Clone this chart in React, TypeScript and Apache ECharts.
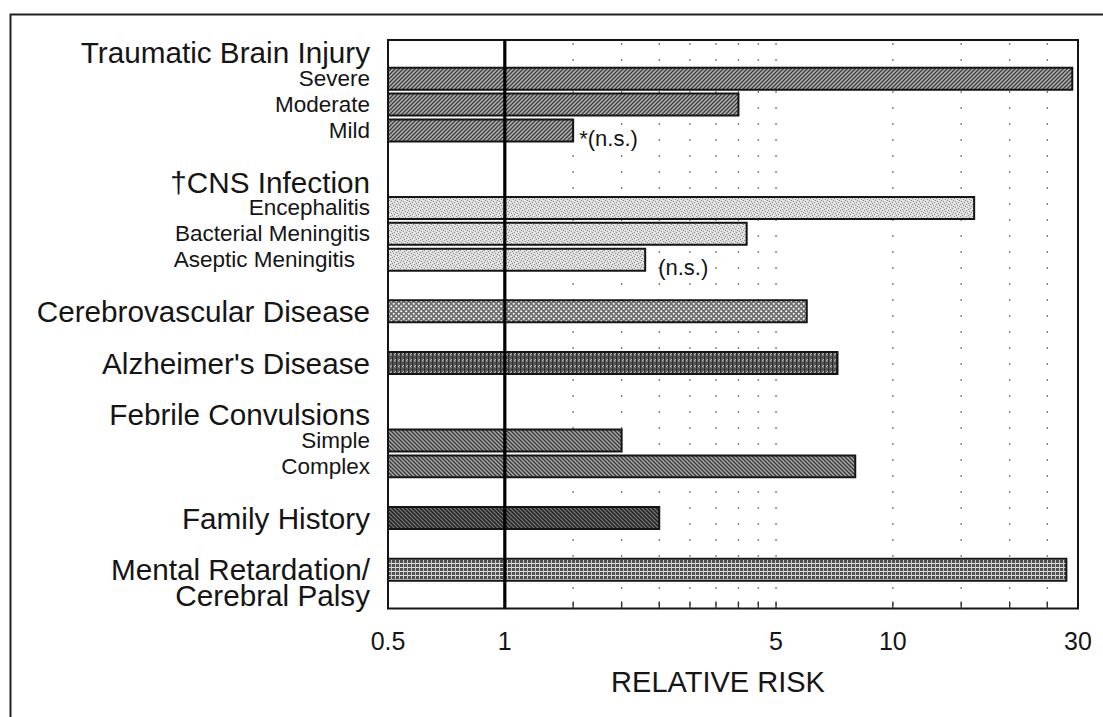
import React, { useEffect, useRef } from "react";
import * as echarts from "echarts";

// Relative-risk scale limits
const X_MIN = 0.5;
const X_MAX = 30;

// One entry per row of the category axis (top to bottom)
const rowLabels = [
  "Traumatic Brain Injury",
  "Severe",
  "Moderate",
  "Mild",
  "",
  "†CNS Infection",
  "Encephalitis",
  "Bacterial Meningitis",
  "Aseptic Meningitis",
  "",
  "Cerebrovascular Disease",
  "",
  "Alzheimer's Disease",
  "",
  "Febrile Convulsions",
  "Simple",
  "Complex",
  "",
  "Family History",
  "",
  "Mental Retardation/",
  "Cerebral Palsy",
];

const rowStyles = [
  "head", "sub", "sub", "sub", "sub",
  "head", "sub", "sub", "subPad", "sub",
  "head", "sub", "head", "sub",
  "head", "sub", "sub", "sub",
  "head", "sub", "head", "head",
];

// Relative risk per row (null = no bar)
const riskValues = [
  null, 29, 4.0, 1.5, null,
  null, 16.2, 4.2, 2.3, null,
  6.0, null, 7.2, null,
  null, 2.0, 8.0, null,
  2.5, null, 28, null,
];

// Fill texture per row
const rowFills = [
  "", "hatchFwd", "hatchFwd", "hatchFwd", "",
  "", "stipple", "stipple", "stipple", "",
  "diamond", "", "vertical", "",
  "", "hatchBack", "hatchBack", "",
  "hatchDark", "", "mesh", "",
];

const annotations = [
  "", "", "", "*(n.s.)", "",
  "", "", "", "(n.s.)", "",
  "", "", "", "",
  "", "", "", "",
  "", "", "", "",
];

const gridValues = [1.5, 2, 2.5, 3, 3.5, 4, 4.5, 5, 10, 15, 20, 25];
const tickLabels = [0.5, 1, 5, 10, 30];

const FONT = "'Liberation Sans', Arial, Helvetica, sans-serif";
const INK = "#151515";

function makeTile(w: number, h: number, draw: (ctx: CanvasRenderingContext2D) => void) {
  const c = document.createElement("canvas");
  c.width = w;
  c.height = h;
  const ctx = c.getContext("2d") as CanvasRenderingContext2D;
  draw(ctx);
  return c;
}

function buildPatterns() {
  const hatch = (bg: string, fg: string, forward: boolean, lw: number) =>
    makeTile(4, 4, (ctx) => {
      ctx.fillStyle = bg;
      ctx.fillRect(0, 0, 4, 4);
      ctx.strokeStyle = fg;
      ctx.lineWidth = lw;
      ctx.beginPath();
      if (forward) {
        ctx.moveTo(-1, 5); ctx.lineTo(5, -1);
        ctx.moveTo(-1, 1); ctx.lineTo(1, -1);
        ctx.moveTo(3, 5); ctx.lineTo(5, 3);
      } else {
        ctx.moveTo(-1, -1); ctx.lineTo(5, 5);
        ctx.moveTo(3, -1); ctx.lineTo(5, 1);
        ctx.moveTo(-1, 3); ctx.lineTo(1, 5);
      }
      ctx.stroke();
    });

  const stipple = makeTile(6, 6, (ctx) => {
    ctx.fillStyle = "#dcdcdc";
    ctx.fillRect(0, 0, 6, 6);
    ctx.fillStyle = "#8e8e8e";
    const dots = [[0, 0], [3, 1], [1, 3], [4, 4], [5, 2], [2, 5]];
    dots.forEach(([x, y]) => ctx.fillRect(x, y, 1, 1));
    ctx.fillStyle = "#f4f4f4";
    [[2, 2], [5, 5], [0, 4]].forEach(([x, y]) => ctx.fillRect(x, y, 1, 1));
  });

  const diamond = makeTile(5, 5, (ctx) => {
    ctx.fillStyle = "#6e6e6e";
    ctx.fillRect(0, 0, 5, 5);
    ctx.fillStyle = "#ffffff";
    ctx.beginPath();
    ctx.arc(1.25, 1.25, 1.05, 0, Math.PI * 2);
    ctx.arc(3.75, 3.75, 1.05, 0, Math.PI * 2);
    ctx.fill();
  });

  const vertical = makeTile(4, 6, (ctx) => {
    ctx.fillStyle = "#7a7a7a";
    ctx.fillRect(0, 0, 4, 6);
    ctx.fillStyle = "#2e2e2e";
    ctx.fillRect(0, 0, 1.5, 6);
    ctx.fillRect(2.5, 2, 1, 3);
    ctx.fillStyle = "#b0b0b0";
    ctx.fillRect(2, 0, 1, 1);
    ctx.fillRect(3, 5, 1, 1);
  });

  const mesh = makeTile(4, 4, (ctx) => {
    ctx.fillStyle = "#505050";
    ctx.fillRect(0, 0, 4, 4);
    ctx.fillStyle = "#e6e6e6";
    ctx.fillRect(0, 3, 4, 1);
    ctx.fillStyle = "#c8c8c8";
    ctx.fillRect(3, 0, 1, 4);
  });

  const toPattern = (c: HTMLCanvasElement) => ({ image: c, repeat: "repeat" as const });
  return {
    hatchFwd: toPattern(hatch("#b4b4b4", "#3c3c3c", true, 1.3)),
    hatchBack: toPattern(hatch("#ababab", "#383838", false, 1.4)),
    hatchDark: toPattern(hatch("#7c7c7c", "#262626", false, 1.6)),
    stipple: toPattern(stipple),
    diamond: toPattern(diamond),
    vertical: toPattern(vertical),
    mesh: toPattern(mesh),
  } as Record<string, any>;
}

export default function App() {
  const ref = useRef<HTMLDivElement>(null);

  useEffect(() => {
    if (!ref.current) return;
    const chart = echarts.init(ref.current, undefined, { renderer: "svg" });
    const patterns = buildPatterns();

    const categoryIds = rowLabels.map((l, i) => `row${i}:${l}`);
    const barData: any[] = [];
    riskValues.forEach((v, i) => {
      if (v !== null) barData.push([v, i]);
    });

    const option: any = {
      animation: false,
      backgroundColor: "#ffffff",
      graphic: [
        {
          type: "rect",
          left: 8,
          top: 12,
          shape: { width: 1200, height: 800 },
          style: { fill: "none", stroke: "#222", lineWidth: 2 },
          silent: true,
        },
      ],
      grid: {
        left: 388,
        right: 25,
        top: 40,
        bottom: 108.5,
        show: true,
        borderColor: INK,
        borderWidth: 2,
        backgroundColor: "transparent",
      },
      xAxis: {
        type: "log",
        logBase: 10,
        min: X_MIN,
        max: X_MAX,
        axisLine: { show: false },
        axisTick: { show: false },
        axisLabel: { show: false },
        splitLine: { show: false },
        name: "RELATIVE RISK",
        nameLocation: "middle",
        nameGap: 59,
        nameTextStyle: {
          fontFamily: FONT,
          fontSize: 29,
          color: INK,
          padding: [0, 30, 0, 0],
        },
      },
      yAxis: {
        type: "category",
        inverse: true,
        data: categoryIds,
        axisLine: { show: false },
        axisTick: { show: false },
        splitLine: { show: false },
        axisLabel: {
          interval: 0,
          margin: 18,
          formatter: (_v: string, idx: number) =>
            rowLabels[idx] ? `{${rowStyles[idx]}|${rowLabels[idx]}}` : "",
          rich: {
            head: { fontFamily: FONT, fontSize: 29.7, lineHeight: 24, color: INK },
            sub: { fontFamily: FONT, fontSize: 22.5, lineHeight: 20, color: INK },
            subPad: {
              fontFamily: FONT,
              fontSize: 22.5,
              lineHeight: 20,
              color: INK,
              padding: [0, 15, 0, 0],
            },
          },
        },
      },
      series: [
        {
          // dotted reference verticals and the small ticks on the bottom edge
          type: "custom",
          z: 1,
          silent: true,
          encode: { x: 0, y: 1 },
          data: gridValues.map((v) => [v, 0]),
          renderItem: (params: any, api: any) => {
            const x = api.coord([api.value(0), 0])[0];
            const cs = params.coordSys;
            const bottom = cs.y + cs.height;
            return {
              type: "group",
              children: [
                {
                  type: "line",
                  shape: { x1: x, y1: cs.y, x2: x, y2: bottom },
                  style: { stroke: "#777", lineWidth: 1.3, lineDash: [2, 14], lineDashOffset: 13 },
                },
                {
                  type: "line",
                  shape: { x1: x, y1: bottom, x2: x, y2: bottom - 7 },
                  style: { stroke: "#333", lineWidth: 1.4 },
                },
              ],
            };
          },
        },
        {
          type: "custom",
          z: 2,
          silent: true,
          encode: { x: 0, y: 1 },
          data: barData,
          renderItem: (_params: any, api: any) => {
            const v = api.value(0);
            const idx = api.value(1);
            const start = api.coord([X_MIN, idx]);
            const end = api.coord([v, idx]);
            const h = api.size([1, 1])[1] * 0.85;
            const children: any[] = [
              {
                type: "rect",
                shape: { x: start[0], y: start[1] - h / 2, width: end[0] - start[0], height: h },
                style: { fill: patterns[rowFills[idx]], stroke: INK, lineWidth: 2 },
              },
            ];
            if (annotations[idx]) {
              children.push({
                type: "text",
                x: end[0] + (annotations[idx].startsWith("*") ? 6 : 13),
                y: end[1] + 8,
                style: {
                  text: annotations[idx],
                  fontFamily: FONT,
                  fontSize: 22,
                  fill: INK,
                  align: "left",
                  verticalAlign: "middle",
                },
              });
            }
            return { type: "group", children };
          },
        },
        {
          // heavy line at relative risk 1
          type: "custom",
          z: 3,
          silent: true,
          encode: { x: 0, y: 1 },
          data: [[1, 0]],
          renderItem: (params: any, api: any) => {
            const x = api.coord([api.value(0), 0])[0];
            const cs = params.coordSys;
            return {
              type: "line",
              shape: { x1: x, y1: cs.y, x2: x, y2: cs.y + cs.height },
              style: { stroke: "#000", lineWidth: 3.2 },
            };
          },
        },
        {
          // tick labels of the log axis
          type: "custom",
          z: 3,
          silent: true,
          encode: { x: 0, y: 1 },
          data: tickLabels.map((v) => [v, 0]),
          renderItem: (params: any, api: any) => {
            const v = api.value(0);
            const x = api.coord([v, 0])[0];
            const cs = params.coordSys;
            return {
              type: "text",
              x,
              y: cs.y + cs.height + 32,
              style: {
                text: String(v),
                fontFamily: FONT,
                fontSize: 25,
                fill: INK,
                align: "center",
                verticalAlign: "middle",
              },
            };
          },
        },
      ],
    };

    chart.setOption(option);
    return () => chart.dispose();
  }, []);

  return (
    <div
      ref={ref}
      style={{ position: "fixed", left: 0, top: 0, width: 1103, height: 717, background: "#fff" }}
    />
  );
}
